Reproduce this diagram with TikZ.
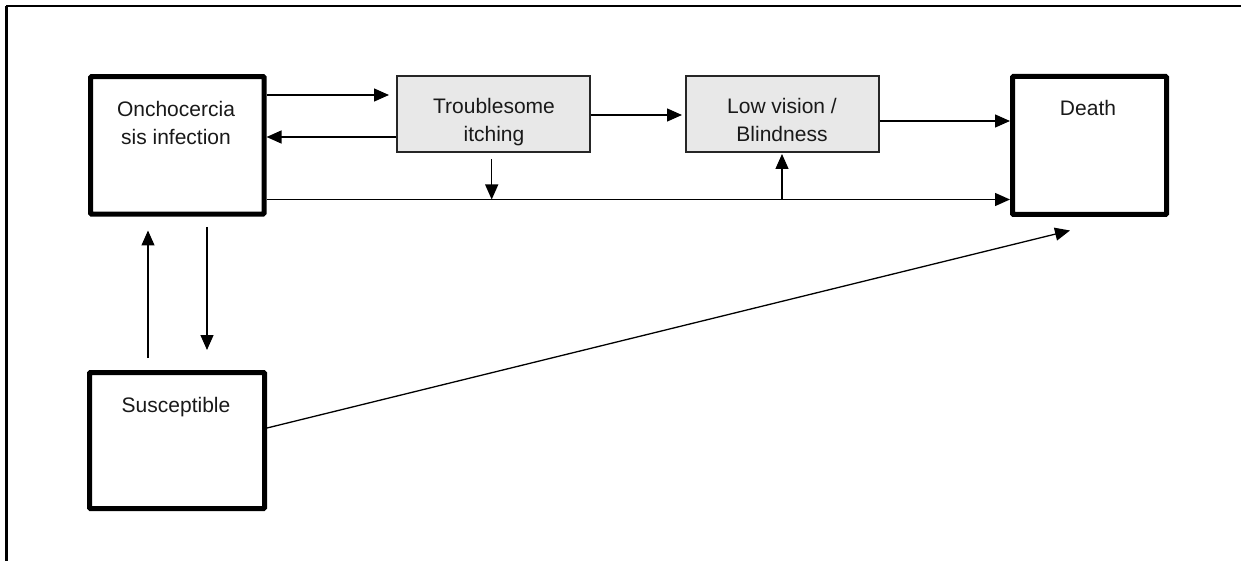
\documentclass[tikz,border=0pt]{standalone}
\usepackage{fontspec}
\setmainfont{Liberation Sans}
\usetikzlibrary{arrows.meta}
\begin{document}
\begin{tikzpicture}[x=1pt,y=-1pt,
  thickbox/.style={draw=black,line width=5pt,rounded corners=1pt,fill=white,inner sep=0pt},
  greybox/.style={draw=black!85,line width=1.4pt,fill=black!9,inner sep=0pt},
  lbl/.style={font=\fontsize{21}{27.5}\selectfont,align=center,inner sep=0pt,text=black!90},
  arr/.style={line width=1.3pt,-{Triangle[length=15pt,width=13pt]}},
  ln/.style={line width=1.3pt}]
\useasboundingbox (0,0) rectangle (1241,561);
% frame
\coordinate (f0) at (6,6);
\coordinate (f1) at (1241,6);
\coordinate (f2) at (6,561);
\draw[line width=2pt] (f0) -- (f1);
\draw[line width=3pt] (f0) -- (f2);
% boxes
\node[thickbox,minimum width=173.5pt,minimum height=137.5pt] (inf) at (177.3,145.3) {};
\node[thickbox,minimum width=154pt,minimum height=138pt] (death) at (1089.5,145.5) {};
\node[thickbox,minimum width=175pt,minimum height=136pt] (sus) at (177,440.5) {};
\node[greybox,minimum width=193pt,minimum height=76pt] (tr) at (493.5,114) {};
\node[greybox,minimum width=193pt,minimum height=76pt] (low) at (782.5,114) {};
% labels
\node[lbl] (tinf) at (176,123) {Onchocercia\\sis infection};
\node[lbl] (ttr) at (494,122) {Troublesome\\itching};
\node[lbl] (tlow) at (782,120) {Low vision /\\Blindness};
\node[lbl,anchor=base] (tdeath) at (1088,116) {Death};
\node[lbl,anchor=base] (tsus) at (176,412) {Susceptible};
% helper coordinates
\coordinate (y95) at (0,95);
\coordinate (y137) at (0,137);
\coordinate (y199) at (0,199.5);
\coordinate (y115) at (0,115);
\coordinate (y121) at (0,121);
\coordinate (y428) at (0,428);
\coordinate (a1) at (389,95);
\coordinate (d1) at (491.7,159);
\coordinate (d2) at (491.7,199.5);
\coordinate (u1) at (782,199.5);
\coordinate (u2) at (782,154);
\coordinate (diag) at (1070,230.5);
\coordinate (s1) at (148,358);
\coordinate (s2) at (148,230.5);
\coordinate (i1) at (207,227);
\coordinate (i2) at (207,350);
\coordinate (t2) at (682,115);
% connectors
\draw[arr] (inf.east |- y95) -- (a1);
\draw[arr] (tr.west |- y137) -- (inf.east |- y137);
\draw[arr] (inf.east |- y199) -- (death.west |- y199);
\draw[arr] (d1) -- (d2);
\draw[arr] (u1) -- (u2);
\draw[arr] (tr.east |- y115) -- (t2);
\draw[arr] (low.east |- y121) -- (death.west |- y121);
\draw[arr] (sus.east |- y428) -- (diag);
\draw[arr] (s1) -- (s2);
\draw[arr] (i1) -- (i2);
\end{tikzpicture}
\end{document}
